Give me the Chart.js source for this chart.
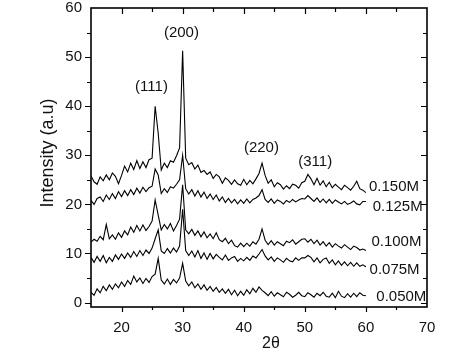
<!DOCTYPE html>
<html>
<head>
<meta charset="utf-8">
<script src="https://cdn.jsdelivr.net/npm/chart.js@4"></script>
<style>
  html, body { margin: 0; padding: 0; background: #fff; }
  #wrap { width: 474px; height: 364px; }
</style>
</head>
<body>
<div id="wrap"><canvas id="xrd" width="474" height="364"></canvas></div>
<script>
// 2-theta grid (degrees)
const twoTheta = [
  15, 15.5, 16, 16.5, 17, 17.5, 18, 18.5, 19, 19.5,
  20, 20.5, 21, 21.5, 22, 22.5, 23, 23.5, 24, 24.5,
  25, 25.5, 26, 26.5, 27, 27.5, 28, 28.5, 29, 29.5,
  30, 30.5, 31, 31.5, 32, 32.5, 33, 33.5, 34, 34.5,
  35, 35.5, 36, 36.5, 37, 37.5, 38, 38.5, 39, 39.5,
  40, 40.5, 41, 41.5, 42, 42.5, 43, 43.5, 44, 44.5,
  45, 45.5, 46, 46.5, 47, 47.5, 48, 48.5, 49, 49.5,
  50, 50.5, 51, 51.5, 52, 52.5, 53, 53.5, 54, 54.5,
  55, 55.5, 56, 56.5, 57, 57.5, 58, 58.5, 59, 59.5,
  60
];

const m150 = [
  25.8, 24.6, 24.1, 25.6, 24.8, 26.0, 25.0, 26.4, 25.7, 24.2,
  25.9, 27.8, 26.6, 28.4, 27.1, 28.9, 27.3, 28.7, 27.5, 29.1,
  29.4, 40.0, 34.5, 27.0, 28.4, 27.5, 28.9, 28.6, 29.9, 31.5,
  51.3, 29.4, 28.1, 28.5, 27.2, 28.0, 26.5, 26.9, 26.1, 26.6,
  25.3, 26.1, 25.6, 24.3, 25.4, 24.9, 24.1, 25.0, 24.2, 23.9,
  25.1, 24.0, 24.9, 24.2, 25.2, 26.3, 28.4, 25.9, 24.3, 25.0,
  23.6, 24.4, 24.0, 23.1, 23.8, 23.2, 24.1, 23.9, 23.3, 24.4,
  24.7, 26.1, 25.2, 24.0, 25.3, 23.9, 24.8, 23.6, 24.5, 23.4,
  24.1, 23.5, 23.0, 23.9, 23.4, 22.9, 23.7, 24.7, 23.2, 22.9,
  22.4
];

const m125 = [
  20.8, 20.0, 21.2, 21.5, 20.6, 21.9, 21.0, 22.2, 21.2, 22.6,
  21.6, 22.8, 21.8, 23.0, 22.0, 23.3, 22.3, 23.5, 22.6, 23.4,
  23.7, 27.2, 26.0, 22.2, 23.2, 22.4, 23.6, 23.3, 24.1, 25.0,
  30.0, 23.2, 22.1, 23.0, 21.7, 22.8, 21.5, 22.5, 21.2, 22.1,
  21.0, 21.9, 20.7, 21.5, 20.4, 21.2, 20.3, 21.0, 20.1, 20.9,
  20.2, 21.1, 20.3, 21.0, 21.3, 21.8, 23.0, 21.0, 20.4, 21.1,
  20.2, 20.9, 20.6, 20.1, 20.8, 20.4, 21.0, 20.5, 20.9, 21.2,
  21.1, 21.8, 21.2, 20.6, 21.3, 20.4, 21.1, 20.3, 21.0, 20.2,
  20.9, 20.5, 20.1, 20.6, 20.0, 20.3, 20.7, 20.1, 19.9, 20.6,
  20.6
];

const m100 = [
  12.3, 12.9, 12.5, 13.5, 12.8, 15.9, 13.0, 13.8, 12.9, 14.2,
  13.3, 14.6, 13.8, 15.4, 14.3, 15.7, 14.6, 15.8, 14.7, 15.5,
  16.6, 20.9, 17.8, 14.8, 15.9, 15.0, 16.1, 14.6, 15.7, 17.0,
  24.0, 14.8, 14.0, 14.9, 13.7, 14.6, 13.4, 14.4, 13.2, 14.0,
  13.0, 14.2, 12.8, 12.4, 13.1, 12.0, 12.7, 11.6, 11.3, 12.1,
  11.4, 12.1, 11.5, 12.4, 11.9, 12.9, 15.0, 12.7, 11.8, 12.6,
  11.7, 12.4, 12.0, 11.6, 12.5, 12.2, 12.8, 11.9, 12.4, 12.9,
  13.0, 12.3, 12.9, 12.0, 12.7, 11.7, 12.4, 11.5, 12.2, 11.3,
  12.0, 11.5, 11.1, 11.8, 11.3, 10.8, 11.5, 11.2, 10.7, 10.9,
  10.6
];

const m075 = [
  9.2, 8.2, 9.4, 8.4, 9.6, 8.1, 9.2, 8.4, 9.7, 8.8,
  9.9, 9.0, 10.1, 9.2, 10.4, 9.4, 10.6, 9.6, 10.7, 10.0,
  11.1, 13.0, 14.8, 10.5, 10.0, 11.0, 10.1, 11.1, 10.3, 11.5,
  19.0, 10.6, 9.6, 10.5, 9.3, 10.6, 9.0, 10.1, 8.8, 10.0,
  8.9, 9.8, 9.2, 8.7, 9.7, 8.6, 9.1, 9.4, 8.4, 9.0,
  8.5, 9.2, 8.6, 9.5, 9.1, 9.9, 10.8, 9.5, 8.7, 9.3,
  8.4, 9.1, 8.7, 8.2, 9.0, 8.5, 8.3, 9.1, 8.6, 9.1,
  9.1, 9.6, 9.2, 8.3, 9.1, 8.1, 8.8, 9.1, 8.0, 8.7,
  7.7, 8.5, 7.6, 8.3, 7.5, 8.2, 7.4, 8.1, 7.4, 7.7,
  7.3
];

const m050 = [
  2.1, 1.5, 2.8, 2.0, 3.3, 2.4, 3.6, 2.7, 3.8, 3.0,
  4.2, 3.3, 4.5, 3.7, 5.4, 4.2, 5.0, 3.9, 4.9, 4.1,
  5.3, 5.8, 9.0, 4.6, 3.8, 4.8, 3.7, 4.7, 4.0, 5.0,
  8.0, 4.4, 3.4, 4.2, 3.0, 3.8, 2.7, 3.6, 2.5, 3.3,
  2.3, 3.1, 2.1, 2.8, 1.9, 2.7, 1.6, 2.5, 1.4, 2.3,
  1.5, 2.6, 1.8, 2.9, 2.1, 3.2, 2.5, 2.0, 1.4, 2.2,
  1.3, 2.0, 1.6, 1.2, 2.1, 1.7, 1.1, 1.5, 2.1, 1.4,
  1.2, 2.0, 1.6, 1.1, 1.9, 1.4, 2.1, 1.3, 1.1, 1.9,
  1.0, 2.3, 1.3, 1.0, 1.8, 1.1, 1.9, 1.2, 2.0, 1.5,
  1.4
];

const seriesNames = ['0.150M', '0.125M', '0.100M', '0.075M', '0.050M'];
const seriesData = [m150, m125, m100, m075, m050];

const xTicks = [20, 30, 40, 50, 60, 70];
const yTicks = [0, 10, 20, 30, 40, 50, 60];

const peakNames = ['(111)', '(200)', '(220)', '(311)'];
const peakX = [24.9, 29.8, 42.9, 51.7];
const peakY = [43.9, 54.9, 31.5, 28.7];

const FONT = "'Liberation Sans', Arial, sans-serif";
const INK = '#111';

// series name labels, placed in data units at the right end of each trace
const nameX = [60.5, 61.1, 60.9, 60.6, 61.7];
const nameY = [23.6, 19.5, 12.4, 6.7, 1.2];

const framePlugin = {
  id: 'frame',
  afterDraw(chart) {
    const { ctx, chartArea: a, scales } = chart;
    const xs = scales.x, ys = scales.y;
    ctx.save();
    ctx.strokeStyle = '#000';
    ctx.lineWidth = 1.6;
    ctx.strokeRect(a.left, a.top, a.right - a.left, a.bottom - a.top);

    ctx.lineWidth = 1.2;
    ctx.beginPath();
    for (let v = 20; v <= 65; v += 5) {
      const px = Math.round(xs.getPixelForValue(v)) + 0.5;
      const len = v % 10 === 0 ? 5 : 3;
      ctx.moveTo(px, a.bottom); ctx.lineTo(px, a.bottom + len);
      ctx.moveTo(px, a.top); ctx.lineTo(px, a.top + len + 1);
    }
    for (let v = 0; v <= 55; v += 5) {
      const py = Math.round(ys.getPixelForValue(v)) + 0.5;
      const len = v % 10 === 0 ? 6 : 4;
      ctx.moveTo(a.left, py); ctx.lineTo(a.left - len, py);
      ctx.moveTo(a.right, py); ctx.lineTo(a.right - len, py);
    }
    ctx.stroke();

    ctx.fillStyle = INK;
    ctx.font = '15px ' + FONT;
    ctx.textBaseline = 'middle';

    // y tick labels (drawn here so they don't push the plot top down)
    ctx.textAlign = 'right';
    yTicks.forEach(v => ctx.fillText(String(v), a.left - 9, ys.getPixelForValue(v)));

    ctx.textAlign = 'center';
    peakNames.forEach((t, i) => {
      ctx.fillText(t, xs.getPixelForValue(peakX[i]), ys.getPixelForValue(peakY[i]));
    });
    ctx.textAlign = 'left';
    seriesNames.forEach((t, i) => {
      ctx.fillText(t, xs.getPixelForValue(nameX[i]), ys.getPixelForValue(nameY[i]));
    });

    // axis titles
    ctx.font = '16px ' + FONT;
    ctx.textAlign = 'center';
    ctx.fillText('2\u03b8', 271, 344);
    ctx.font = '18px ' + FONT;
    ctx.translate(48, 153);
    ctx.rotate(-Math.PI / 2);
    ctx.fillText('Intensity (a.u)', 0, 0);
    ctx.restore();
  }
};

const ctx = document.getElementById('xrd').getContext('2d');
new Chart(ctx, {
  type: 'line',
  data: {
    datasets: seriesData.map((vals, i) => ({
      label: seriesNames[i],
      data: vals.map((y, j) => ({ x: twoTheta[j], y: y })),
      borderColor: '#000',
      borderWidth: 1.1,
      pointRadius: 0,
      tension: 0,
      fill: false
    }))
  },
  options: {
    responsive: false,
    animation: false,
    events: [],
    layout: { padding: { top: 8, right: 47, left: 0, bottom: 0 } },
    plugins: { legend: { display: false }, tooltip: { enabled: false } },
    scales: {
      x: {
        type: 'linear',
        min: 15,
        max: 70,
        grid: { display: false, drawTicks: false },
        border: { display: false },
        afterBuildTicks: s => { s.ticks = xTicks.map(v => ({ value: v })); },
        afterFit: s => { s.height = 57; },
        ticks: { color: INK, padding: 12, font: { family: FONT, size: 15 }, maxRotation: 0 }
      },
      y: {
        type: 'linear',
        min: -0.9,
        max: 60,
        grid: { display: false, drawTicks: false },
        border: { display: false },
        afterBuildTicks: s => { s.ticks = yTicks.map(v => ({ value: v })); },
        afterFit: s => { s.width = 91; },
        ticks: { display: false }
      }
    }
  },
  plugins: [framePlugin]
});
</script>
</body>
</html>
